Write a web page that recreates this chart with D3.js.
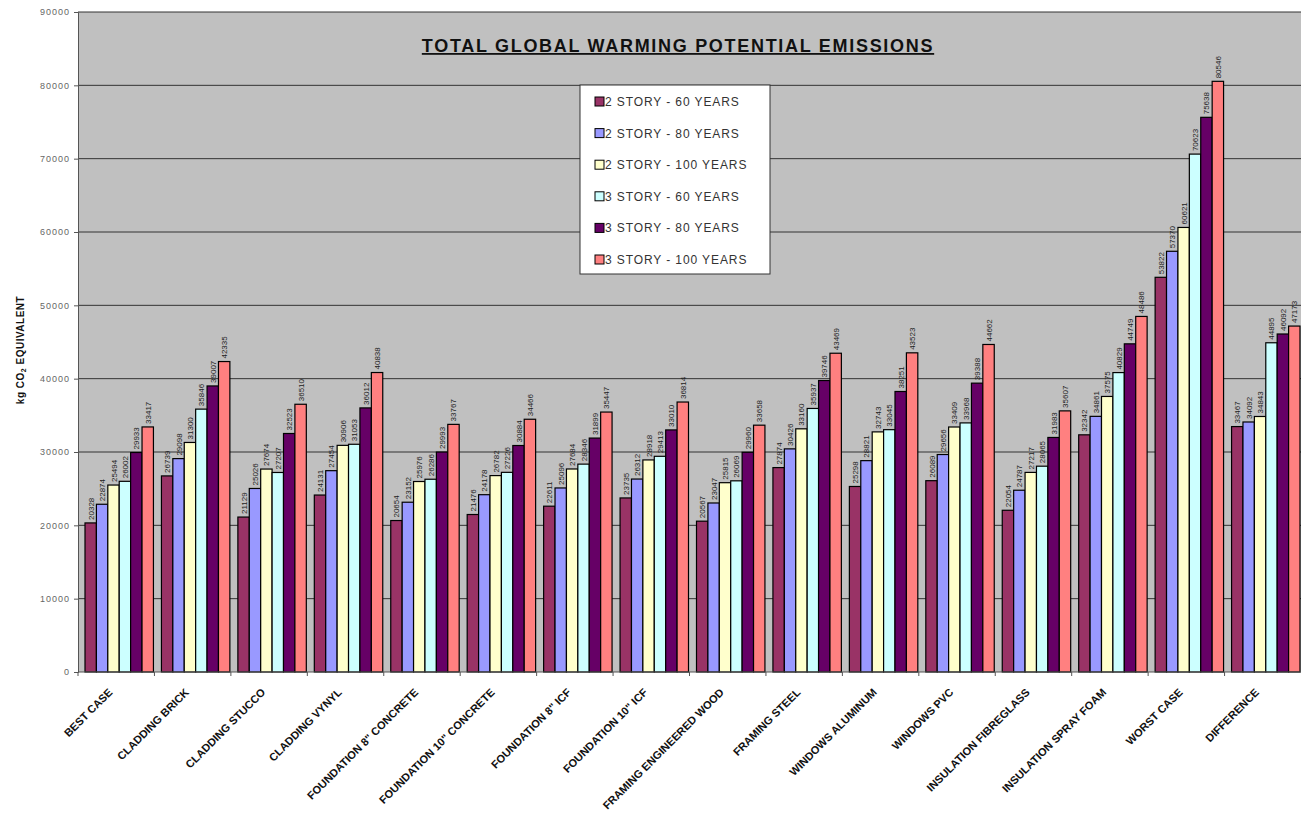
<!DOCTYPE html>
<html>
<head>
<meta charset="utf-8">
<script src="https://cdn.jsdelivr.net/npm/d3@7"></script>
<style>
  body { margin: 0; background: #fff; }
  text { font-family: "Liberation Sans", Arial, sans-serif; }
</style>
</head>
<body>
<div id="chart-area"></div>
<script>
var categories = ["BEST CASE", "CLADDING BRICK", "CLADDING STUCCO", "CLADDING VYNYL",
  "FOUNDATION 8\" CONCRETE", "FOUNDATION 10\" CONCRETE", "FOUNDATION 8\" ICF",
  "FOUNDATION 10\" ICF", "FRAMING ENGINEERED WOOD", "FRAMING STEEL", "WINDOWS ALUMINUM",
  "WINDOWS PVC", "INSULATION FIBREGLASS", "INSULATION SPRAY FOAM", "WORST CASE", "DIFFERENCE"];

var seriesNames = ["2 STORY - 60 YEARS", "2 STORY - 80 YEARS", "2 STORY - 100 YEARS",
  "3 STORY - 60 YEARS", "3 STORY - 80 YEARS", "3 STORY - 100 YEARS"];

var s2y60  = [20328, 26739, 21129, 24131, 20654, 21476, 22611, 23735, 20567, 27874, 25298, 26089, 22054, 32342, 53822, 33467];
var s2y80  = [22874, 29098, 25026, 27454, 23152, 24178, 25096, 26312, 23047, 30426, 28821, 29656, 24787, 34861, 57370, 34092];
var s2y100 = [25494, 31300, 27674, 30906, 25976, 26782, 27684, 28918, 25815, 33160, 32743, 33409, 27217, 37575, 60621, 34843];
var s3y60  = [26002, 35846, 27207, 31053, 26286, 27226, 28346, 29413, 26069, 35937, 33045, 33968, 28065, 40829, 70623, 44895];
var s3y80  = [29933, 39007, 32523, 36012, 29993, 30884, 31899, 33010, 29960, 39746, 38251, 39388, 31983, 44749, 75638, 46092];
var s3y100 = [33417, 42335, 36510, 40838, 33767, 34466, 35447, 36814, 33658, 43469, 43523, 44662, 35607, 48486, 80546, 47173];

var yTicks = [0, 10000, 20000, 30000, 40000, 50000, 60000, 70000, 80000, 90000];
var colors = ["#993366", "#9999ff", "#ffffcc", "#ccffff", "#660066", "#ff8080"];

var seriesValues = [s2y60, s2y80, s2y100, s3y60, s3y80, s3y100];

var W = 1301, H = 825;
var margin = { left: 78, right: 0, top: 12, bottom: 153 };
var w = W - margin.left - margin.right;
var h = H - margin.top - margin.bottom;

var svg = d3.select("#chart-area").append("svg")
  .attr("width", W)
  .attr("height", H);

var group = svg.append("g")
  .attr("transform", "translate(" + margin.left + ", " + margin.top + ")");

var x = d3.scaleBand()
  .domain(categories)
  .range([0, w])
  .padding(0);

var gap = 8;
var x1 = d3.scaleBand()
  .domain(d3.range(seriesNames.length))
  .range([gap / 2 + 3, x.bandwidth() - gap / 2 + 3])
  .padding(0);

var y = d3.scaleLinear()
  .domain([0, 90000])
  .range([h, 0]);

// plot background
group.append("rect")
  .attr("x", 0).attr("y", 0)
  .attr("width", w).attr("height", h)
  .attr("fill", "#c0c0c0");

// gridlines
group.selectAll("line.grid")
  .data(yTicks.slice(1))
  .enter().append("line")
  .attr("class", "grid")
  .attr("x1", 0).attr("x2", w)
  .attr("y1", function(d) { return y(d); })
  .attr("y2", function(d) { return y(d); })
  .attr("stroke", "#333")
  .attr("stroke-width", 1);

// bars
var cats = group.selectAll("g.cat")
  .data(categories)
  .enter().append("g")
  .attr("class", "cat")
  .attr("transform", function(d) { return "translate(" + x(d) + ",0)"; });

cats.selectAll("rect")
  .data(function(d, i) { return seriesValues.map(function(s, k) { return { k: k, v: s[i] }; }); })
  .enter().append("rect")
  .attr("x", function(d) { return x1(d.k); })
  .attr("y", function(d) { return y(d.v); })
  .attr("width", x1.bandwidth())
  .attr("height", function(d) { return h - y(d.v); })
  .attr("fill", function(d) { return colors[d.k]; })
  .attr("stroke", "#000")
  .attr("stroke-width", 1.2);

cats.selectAll("text.val")
  .data(function(d, i) { return seriesValues.map(function(s, k) { return { k: k, v: s[i] }; }); })
  .enter().append("text")
  .attr("class", "val")
  .attr("transform", function(d) {
    return "translate(" + (x1(d.k) + x1.bandwidth() / 2 + 3) + "," + (y(d.v) - 3) + ") rotate(-90)";
  })
  .attr("font-size", "8px")
  .attr("fill", "#222")
  .text(function(d) { return d.v; });

// y axis
var left = d3.axisLeft(y)
  .tickValues(yTicks)
  .tickSize(4)
  .tickFormat(function(d) { return d; });

var yAxis = group.append("g")
  .attr("class", "left axis")
  .call(left);
yAxis.select(".domain").attr("stroke", "#555");
yAxis.selectAll(".tick line").attr("stroke", "#555");
yAxis.selectAll("text")
  .attr("font-size", "9px")
  .attr("letter-spacing", "1px")
  .attr("fill", "#666")
  .attr("x", -8);

// x axis
var xAxisG = group.append("g")
  .attr("class", "bottom axis")
  .attr("transform", "translate(0," + h + ")");
xAxisG.append("line")
  .attr("x1", 0).attr("x2", w)
  .attr("stroke", "#555");
xAxisG.selectAll("line.tk")
  .data(categories)
  .enter().append("line")
  .attr("class", "tk")
  .attr("x1", function(d) { return x(d); })
  .attr("x2", function(d) { return x(d); })
  .attr("y1", 0).attr("y2", 4)
  .attr("stroke", "#555");
xAxisG.selectAll("text")
  .data(categories)
  .enter().append("text")
  .attr("transform", function(d) {
    return "translate(" + (x(d) + x.bandwidth() / 2 - 3) + ",21) rotate(-45)";
  })
  .attr("text-anchor", "end")
  .attr("font-size", "11px")
  .attr("font-weight", "bold")
  .attr("fill", "#111")
  .text(function(d) { return d; });

// y axis label
var yl = svg.append("text")
  .attr("transform", "translate(24," + (margin.top + h / 2 + 8) + ") rotate(-90)")
  .attr("text-anchor", "middle")
  .attr("font-size", "10px")
  .attr("font-weight", "bold")
  .attr("letter-spacing", "0.5px")
  .attr("fill", "#111");
yl.append("tspan").text("kg CO");
yl.append("tspan").attr("font-size", "7px").attr("dy", 2).text("2");
yl.append("tspan").attr("dy", -2).text(" EQUIVALENT");

// title
svg.append("text")
  .attr("x", 678)
  .attr("y", 52)
  .attr("text-anchor", "middle")
  .attr("font-size", "18px")
  .attr("font-weight", "bold")
  .attr("letter-spacing", "1.7px")
  .attr("fill", "#111")
  .attr("text-decoration", "underline")
  .text("TOTAL GLOBAL WARMING POTENTIAL EMISSIONS");

// legend
var legend = svg.append("g")
  .attr("transform", "translate(580,85)");
legend.append("rect")
  .attr("width", 190).attr("height", 189)
  .attr("fill", "#fff")
  .attr("stroke", "#333");
var li = legend.selectAll("g.li")
  .data(seriesNames)
  .enter().append("g")
  .attr("class", "li")
  .attr("transform", function(d, i) { return "translate(15," + (17 + i * 31.6) + ")"; });
li.append("rect")
  .attr("x", 0).attr("y", -5)
  .attr("width", 9).attr("height", 9)
  .attr("fill", function(d, i) { return colors[i]; })
  .attr("stroke", "#000");
li.append("text")
  .attr("x", 10).attr("y", 4)
  .attr("font-size", "12px")
  .attr("letter-spacing", "0.9px")
  .attr("fill", "#333")
  .text(function(d) { return d; });
</script>
</body>
</html>
